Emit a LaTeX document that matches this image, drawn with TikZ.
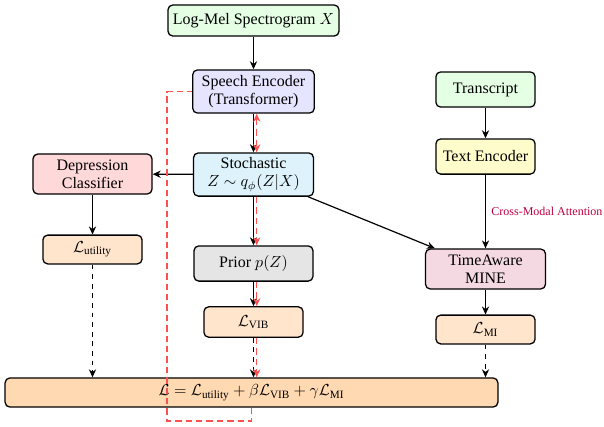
\documentclass[tikz,border=0pt]{standalone}
\usepackage{amsmath}
\usepackage{fontspec}
\setmainfont{Liberation Serif}
\usetikzlibrary{arrows.meta}
\definecolor{stochc}{RGB}{221,242,250}
\definecolor{gradred}{RGB}{255,80,80}
\begin{document}
\begin{tikzpicture}[x=0.625pt,y=-0.625pt,
  box/.style={draw=black, line width=0.8pt, rounded corners=3pt, align=center, inner sep=2pt, font=\fontsize{10}{11.5}\selectfont},
  arr/.style={-{Stealth[length=5pt,width=4.5pt]}, line width=0.75pt},
  grad/.style={draw=gradred, color=gradred, dash pattern=on 4pt off 2.5pt, line width=0.75pt},
  gtip/.style={-{Stealth[length=5pt,width=4.5pt]}},
]
\useasboundingbox (0,0) rectangle (604,426);

\node[box, fill=green!10, minimum width=106.9pt, minimum height=19.4pt] (mel) at (253.5,20.5) {Log-Mel Spectrogram $X$};
\node[box, fill=blue!10, minimum width=76pt, minimum height=27pt] (enc) at (253.5,91.5) {Speech Encoder\\(Transformer)};
\node[box, fill=stochc, minimum width=75pt, minimum height=27pt] (stoch) at (253.5,174.5) {Stochastic\\$Z\sim q_\phi(Z|X)$};
\node[box, fill=gray!20, minimum width=74.4pt, minimum height=22pt] (prior) at (253.5,263.5) {Prior $p(Z)$};
\node[box, fill=orange!20, minimum width=62pt, minimum height=19pt] (lvib) at (253.5,322) {$\mathcal{L}_{\text{VIB}}$};
\node[box, fill=orange!30, minimum width=308pt, minimum height=18.2pt] (total) at (251.5,392.5) {$\mathcal{L}=\mathcal{L}_{\text{utility}}+\beta\mathcal{L}_{\text{VIB}}+\gamma\mathcal{L}_{\text{MI}}$};
\node[box, fill=red!15, minimum width=74.4pt, minimum height=25pt] (cls) at (92.5,174) {Depression\\Classifier};
\node[box, fill=orange!20, minimum width=62pt, minimum height=18pt] (lutil) at (92.5,249.5) {$\mathcal{L}_{\text{utility}}$};
\node[box, fill=green!10, minimum width=62pt, minimum height=22pt] (trans) at (485.5,89.5) {Transcript};
\node[box, fill=yellow!20, minimum width=62pt, minimum height=22pt] (tenc) at (485.5,156.5) {Text Encoder};
\node[box, fill=purple!15, minimum width=75pt, minimum height=25pt] (mine) at (485.5,269) {TimeAware\\MINE};
\node[box, fill=orange!20, minimum width=62pt, minimum height=18pt] (lmi) at (485.5,329.5) {$\mathcal{L}_{\text{MI}}$};

\draw[arr] (mel) -- (enc);
\draw[arr] (enc) -- (stoch);
\draw[arr] (stoch) -- (cls);
\draw[arr] (cls) -- (lutil);
\draw[arr] (stoch) -- (prior);
\draw[arr] (prior) -- (lvib);
\draw[arr, dashed] (lvib.south) -- (lvib.south |- total.north);
\draw[arr, dashed] (lutil.south) -- (lutil.south |- total.north);
\draw[arr, dashed] (lmi.south) -- (lmi.south |- total.north);
\draw[arr] (stoch) -- (mine);
\draw[arr] (trans) -- (tenc);
\draw[arr] (tenc) -- node[right, font=\fontsize{7.5}{9}\selectfont, text=purple] {Cross-Modal Attention} (mine);
\draw[arr] (mine) -- (lmi);

\draw[grad, {Stealth[length=5pt,width=4.5pt]}-{Stealth[length=5pt,width=4.5pt]}] ([xshift=2pt]enc.south) -- ([xshift=2pt]stoch.north);
\draw[grad, gtip] ([xshift=2pt]stoch.south) -- ([xshift=2pt]prior.north);
\draw[grad, gtip] ([xshift=2pt]prior.south) -- ([xshift=2pt]lvib.north);
\draw[grad, gtip] ([xshift=2pt]lvib.south) -- ([xshift=2pt]lvib.south |- total.north);

\coordinate (gb) at (167,421);
\coordinate (gt) at (167,91.5);
\draw[grad] (total.south) |- (gb) -- (gt) -- (enc.west);
\end{tikzpicture}
\end{document}
